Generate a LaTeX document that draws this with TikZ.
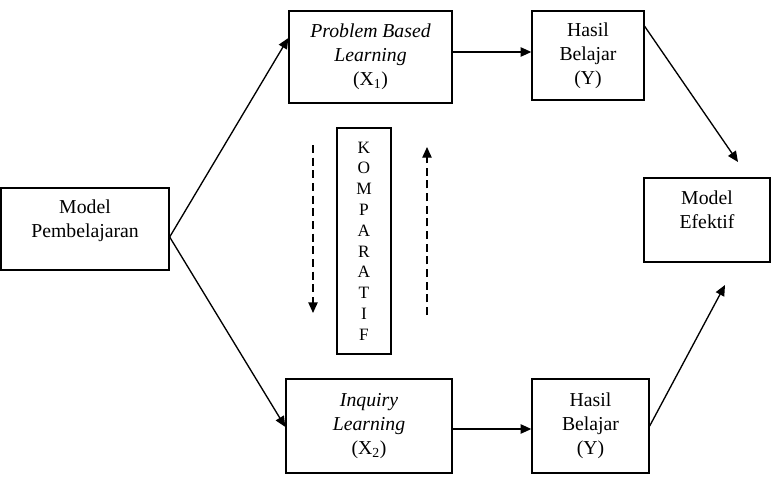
\documentclass[tikz,border=0pt]{standalone}
\usepackage{fontspec}
\setmainfont{Liberation Serif}
\usetikzlibrary{arrows.meta, positioning, calc}
\tikzset{
  every picture/.style={line width=1pt},
  box/.style={draw, rectangle, align=center, inner sep=2pt, font=\fontsize{14.8}{18}\selectfont},
  arrow/.style={-{Triangle[length=8pt, width=7pt]}, line width=1pt},
  dasharrow/.style={arrow, dash pattern=on 6pt off 3.5pt},
}

\begin{document}
\begin{tikzpicture}[x=0.75pt, y=-0.75pt]
  \useasboundingbox (0,0) rectangle (775,478);
  % the boxes
  \node[box, minimum width=126pt, minimum height=61.5pt, text depth=16pt] (mp) at (85,229) {Model\\Pembelajaran};
  \node[box, minimum width=122.25pt, minimum height=69pt] (pbl) at (370.5,57) {\textit{Problem Based}\\\textit{Learning}\\(X\textsubscript{1})};
  \node[box, minimum width=124.5pt, minimum height=70.5pt] (inq) at (369,426) {\textit{Inquiry}\\\textit{Learning}\\(X\textsubscript{2})};
  \node[box, minimum width=84pt, minimum height=66.75pt] (hy1) at (588,55.5) {Hasil\\Belajar\\(Y)};
  \node[box, minimum width=87.75pt, minimum height=70.5pt] (hy2) at (590.5,426) {Hasil\\Belajar\\(Y)};
  \node[box, minimum width=94.5pt, minimum height=63pt, text depth=16pt] (me) at (707,220) {Model\\Efektif};
  \node[box, minimum width=40.5pt, minimum height=169.5pt, font=\fontsize{13}{15.6}\selectfont] (komp) at (364,241) {K\\O\\M\\P\\A\\R\\A\\T\\I\\F};
  % connectors
  \coordinate (split) at ($(mp.east)+(0,8)$);
  \draw[arrow] (split) -- ($(pbl.west)+(0,-19)$);
  \draw[arrow] (split) -- ($(inq.west)+(0,1)$);
  \draw[arrow] ($(pbl.east)+(0,-5)$) -- ($(pbl.east -| hy1.west)+(0,-5)$);
  \draw[arrow] ($(inq.east)+(0,3)$) -- ($(inq.east -| hy2.west)+(0,3)$);
  \coordinate (e1) at (738,162);
  \coordinate (e2) at (725,285);
  \draw[arrow] ($(hy1.north east)+(0,16)$) -- (e1);
  \draw[arrow] (hy2.east) -- (e2);
  % dashed comparison arrows
  \coordinate (d1) at (313,145);
  \coordinate (d2) at (313,313);
  \coordinate (u1) at (427,315);
  \coordinate (u2) at (427,147);
  \draw[dasharrow] (d1) -- (d2);
  \draw[dasharrow] (u1) -- (u2);
\end{tikzpicture}
\end{document}
